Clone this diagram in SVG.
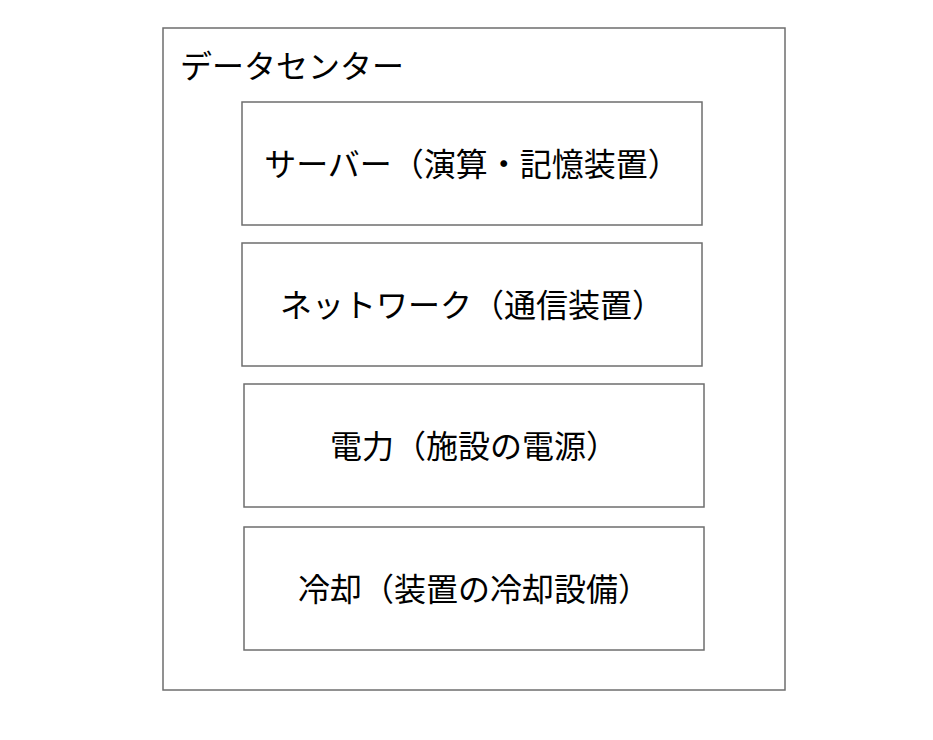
<svg xmlns="http://www.w3.org/2000/svg" width="933" height="740" viewBox="0 0 933 740">
<style>
.box{fill:#ffffff;stroke:#6e6e6e;stroke-width:1.5}
.lbl{font-family:"Noto Sans CJK JP","Noto Sans",sans-serif;font-size:32px;fill:#000000;text-anchor:middle}
.ttl{font-family:"Noto Sans CJK JP","Noto Sans",sans-serif;font-size:32px;fill:#000000}
</style>
<rect width="933" height="740" fill="#ffffff"/>
<g id="datacenter">
<rect class="box" x="163" y="28" width="622" height="662"/>
<text class="ttl" x="180" y="78">データセンター</text>
</g>
<g id="server">
<rect class="box" x="242" y="102" width="460" height="123"/>
<text class="lbl" x="472" y="176">サーバー（演算・記憶装置）</text>
</g>
<g id="network">
<rect class="box" x="242" y="243" width="460" height="123"/>
<text class="lbl" x="472" y="317">ネットワーク（通信装置）</text>
</g>
<g id="power">
<rect class="box" x="244" y="384" width="460" height="123"/>
<text class="lbl" x="474" y="458">電力（施設の電源）</text>
</g>
<g id="cooling">
<rect class="box" x="244" y="527" width="460" height="123"/>
<text class="lbl" x="474" y="601">冷却（装置の冷却設備）</text>
</g>
<g id="connectors"></g>
</svg>
